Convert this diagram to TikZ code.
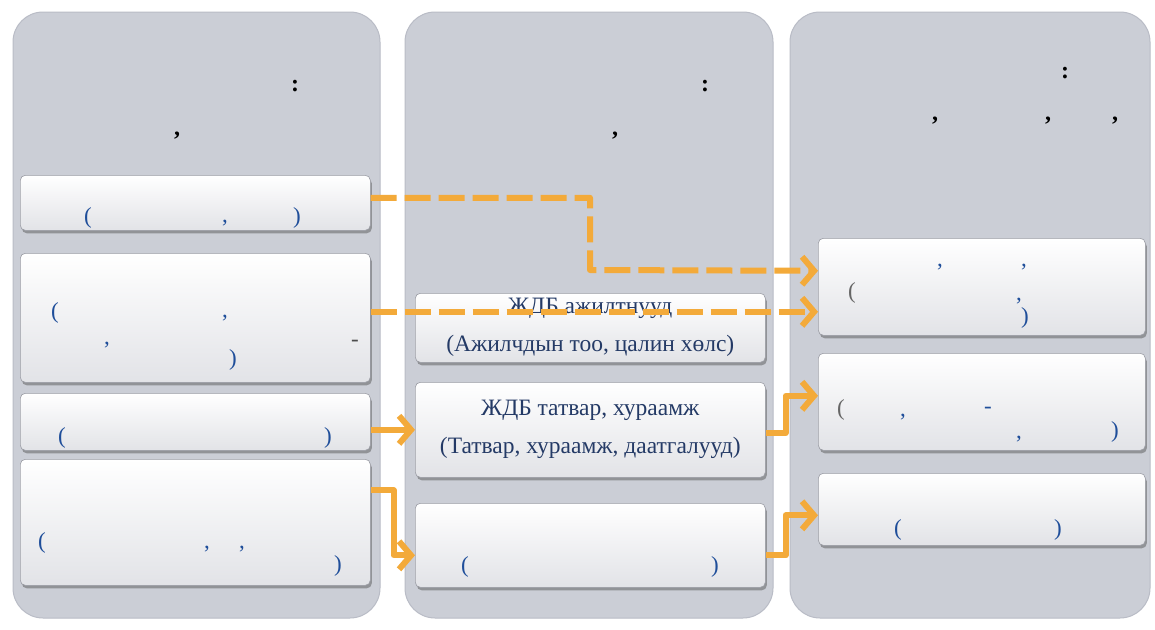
\documentclass[tikz,border=0pt]{standalone}
\usepackage{fontspec}
\setmainfont{Liberation Serif}
\usetikzlibrary{arrows.meta,shadows}
\definecolor{panelgray}{HTML}{CBCED6}
\definecolor{panelline}{HTML}{B9BCC6}
\definecolor{boxbot}{HTML}{E2E3E7}
\definecolor{boxline}{HTML}{9A9CA4}
\definecolor{arrorange}{HTML}{F3AA3A}
\definecolor{txtblue}{HTML}{1F4E9A}
\definecolor{txtnavy}{HTML}{243A66}
\tikzset{
  panel/.style={fill=panelgray, draw=panelline, line width=1pt, rounded corners=30pt},
  card/.style={anchor=north west, inner sep=0pt, rounded corners=5pt,
    top color=white, bottom color=boxbot, draw=boxline, line width=0.6pt,
    drop shadow={shadow xshift=1.5pt, shadow yshift=-3pt, opacity=0.45, fill=black!70},
    font=\fontsize{23.5}{38}\selectfont, text=txtnavy, align=center},
  punc/.style={inner sep=0pt, text=txtblue, font=\fontsize{23}{27}\selectfont},
  headp/.style={inner sep=0pt, text=black, font=\fontsize{24}{28}\selectfont\bfseries},
  flow/.style={draw=arrorange, line width=6pt, line join=round,
    -{Straight Barb[length=12pt, width=28pt, line width=6pt]}},
  dflow/.style={flow, dash pattern=on 26pt off 8pt}
}
\begin{document}
\begin{tikzpicture}[x=1pt, y=-1pt]
\useasboundingbox (0,0) rectangle (1155,629);
\fill[white] (0,0) rectangle (1155,629);
% panels
\draw[panel] (13,12) rectangle (380,618);
\draw[panel] (405,12) rectangle (773,618);
\draw[panel] (790,12) rectangle (1150,618);
% panel headings
\node[headp] (h1a) at (295,86) {:};
\node[headp] (h1b) at (177,136) {,};
\node[headp] (h2a) at (705,86) {:};
\node[headp] (h2b) at (615,136) {,};
\node[headp] (h3a) at (1065,73) {:};
\node[headp] (h3b) at (935,121) {,};
\node[headp] (h3c) at (1048,121) {,};
\node[headp] (h3d) at (1115,121) {,};
% left cards
\node[card, minimum width=350pt, minimum height=55pt] (L1) at (20,175) {};
\node[card, minimum width=350pt, minimum height=129pt] (L2) at (20,253) {};
\node[card, minimum width=350pt, minimum height=57pt] (L3) at (20,393) {};
\node[card, minimum width=350pt, minimum height=126pt] (L4) at (20,459) {};
% middle cards
\node[card, minimum width=350pt, minimum height=69pt] (M1) at (415,293) {ЖДБ ажилтнууд\\(Ажилчдын тоо, цалин хөлс)};
\node[card, minimum width=350pt, minimum height=95pt] (M2) at (415,382) {ЖДБ татвар, хураамж\\(Татвар, хураамж, даатгалууд)};
\node[card, minimum width=350pt, minimum height=84pt] (M3) at (415,503) {};
% right cards
\node[card, minimum width=327pt, minimum height=97pt] (R1) at (818,238) {};
\node[card, minimum width=327pt, minimum height=97pt] (R2) at (818,353) {};
\node[card, minimum width=327pt, minimum height=72pt] (R3) at (818,473) {};
% punctuation in cards
\node[punc] (l1a) at (88,218) {(};
\node[punc] (l1b) at (225,223) {,};
\node[punc] (l1c) at (297,218) {)};
\node[punc] (l2a) at (55,313) {(};
\node[punc] (l2b) at (225,318) {,};
\node[punc] (l2c) at (107,345) {,};
\node[punc, text=black!70] (l2d) at (355,343) {-};
\node[punc] (l2e) at (233,360) {)};
\node[punc] (l3a) at (62,438) {(};
\node[punc] (l3b) at (328,438) {)};
\node[punc] (l4a) at (42,543) {(};
\node[punc] (l4b) at (207,549) {,};
\node[punc] (l4c) at (242,549) {,};
\node[punc] (l4d) at (338,566) {)};
\node[punc] (m3a) at (465,567) {(};
\node[punc] (m3b) at (715,567) {)};
\node[punc] (r1a) at (940,267) {,};
\node[punc] (r1b) at (1024,267) {,};
\node[punc, text=black!60] (r1c) at (852,293) {(};
\node[punc] (r1d) at (1019,301) {,};
\node[punc] (r1e) at (1025,318) {)};
\node[punc, text=black!60] (r2a) at (841,410) {(};
\node[punc] (r2b) at (903,417) {,};
\node[punc] (r2c) at (988,410) {-};
\node[punc] (r2d) at (1019,439) {,};
\node[punc] (r2e) at (1115,432) {)};
\node[punc] (r3a) at (898,530) {(};
\node[punc] (r3b) at (1058,530) {)};
% connectors
\draw[dflow] ([yshift=5pt]L1.east) -| (590,270) -- ([yshift=16pt]R1.west);
\draw[dflow] ([yshift=6pt]L2.east) -- ([yshift=-25pt]R1.west);
\draw[flow] ([yshift=-8pt]L3.east) -- (M2.west);
\draw[flow] ([yshift=32pt]L4.east) -- ++(23pt,0) |- ([yshift=-10pt]M3.west);
\draw[flow] ([yshift=-3pt]M2.east) -- ++(20pt,0) |- ([yshift=6pt]R2.west);
\draw[flow] ([yshift=-10pt]M3.east) -- ++(20pt,0) |- ([yshift=-6pt]R3.west);
\end{tikzpicture}
\end{document}
